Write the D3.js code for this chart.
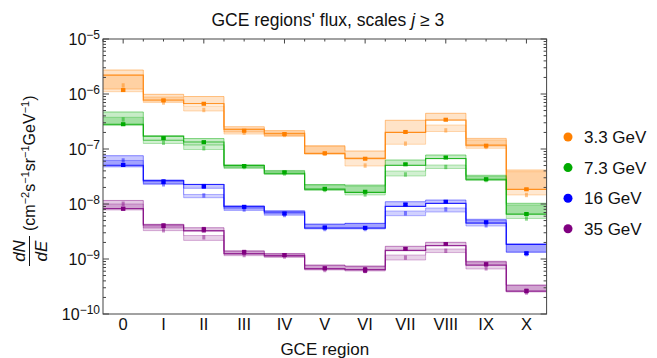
<!DOCTYPE html>
<html>
<head>
<meta charset="utf-8">
<script src="https://cdn.jsdelivr.net/npm/d3@7/dist/d3.min.js"></script>
<style>
  html, body { margin: 0; padding: 0; background: #fff; }
  svg { display: block; font-family: "Liberation Sans", Arial, sans-serif; }
</style>
</head>
<body>
<svg id="chart" width="657" height="358"></svg>
<script>
// GCE regions and energy bins
const regions = ["0", "I", "II", "III", "IV", "V", "VI", "VII", "VIII", "IX", "X"];
const energies = ["3.3 GeV", "7.3 GeV", "16 GeV", "35 GeV"];
const colors = ["#ff8000", "#00aa00", "#0000ff", "#800080"];

// 3.3 GeV
const fit33 = [2.21e-6, 7.78e-7, 6.72e-7, 2.26e-7, 1.91e-7, 8.36e-8, 6.77e-8, 2.01e-7, 3.37e-7, 1.18e-7, 1.85e-8];
const hiA33 = [2.73e-6, 9.87e-7, 9.0e-7, 2.54e-7, 2.16e-7, 1.15e-7, 9.2e-8, 3.33e-7, 4.46e-7, 1.56e-7, 4.15e-8];
const loA33 = [1.23e-6, 7.46e-7, 6.58e-7, 2.04e-7, 1.76e-7, 8.11e-8, 6.58e-8, 2.0e-7, 3.33e-7, 1.13e-7, 1.84e-8];
const hiB33 = [2.21e-6, 8.82e-7, 6.05e-7, 2.36e-7, 2.04e-7, 1.11e-7, 6.86e-8, 2.0e-7, 2.73e-7, 1.46e-7, 3.87e-8];
const loB33 = [1.10e-6, 7.0e-7, 4.91e-7, 1.87e-7, 1.69e-7, 8.11e-8, 4.91e-8, 1.22e-7, 2.08e-7, 1.03e-7, 1.46e-8];
const ptA33 = [1.18e-6, 7.67e-7, 6.65e-7, 2.15e-7, 1.87e-7, 8.36e-8, 6.66e-8, 2.04e-7, 3.41e-7, 1.15e-7, 1.85e-8];
const ptB33 = [1.43e-6, 7.0e-7, 5.12e-7, 1.98e-7, 1.80e-7, 8.2e-8, 5.0e-8, 1.25e-7, 2.18e-7, 1.09e-7, 1.46e-8];
const err33 = [1.04, 1.04, 1.04, 1.04, 1.04, 1.04, 1.04, 1.04, 1.04, 1.04, 1.04];

// 7.3 GeV
const fit73 = [2.82e-7, 1.72e-7, 1.34e-7, 4.97e-8, 3.62e-8, 1.87e-8, 1.63e-8, 5.06e-8, 6.72e-8, 2.82e-8, 6.58e-9];
const hiA73 = [4.71e-7, 1.72e-7, 1.55e-7, 5.16e-8, 4.07e-8, 2.26e-8, 2.21e-8, 6.31e-8, 7.78e-8, 3.33e-8, 1.03e-8];
const loA73 = [2.79e-7, 1.43e-7, 1.21e-7, 4.61e-8, 3.54e-8, 1.84e-8, 1.62e-8, 5.02e-8, 6.66e-8, 2.75e-8, 6.44e-9];
const hiB73 = [3.77e-7, 1.46e-7, 1.16e-7, 5.02e-8, 3.90e-8, 2.21e-8, 2.12e-8, 3.98e-8, 5.12e-8, 3.16e-8, 9.59e-9];
const loB73 = [2.67e-7, 1.26e-7, 9.79e-8, 4.42e-8, 3.44e-8, 1.76e-8, 1.46e-8, 3.23e-8, 4.42e-8, 2.67e-8, 5.45e-9];
const ptA73 = [2.82e-7, 1.58e-7, 1.33e-7, 4.91e-8, 3.77e-8, 1.89e-8, 1.67e-8, 5.27e-8, 7.0e-8, 2.82e-8, 6.58e-9];
const ptB73 = [3.44e-7, 1.30e-7, 1.03e-7, 4.71e-8, 3.59e-8, 1.80e-8, 1.49e-8, 3.44e-8, 4.71e-8, 2.73e-8, 5.45e-9];
const err73 = [1.04, 1.04, 1.04, 1.04, 1.04, 1.04, 1.04, 1.04, 1.04, 1.04, 1.04];

// 16 GeV
const fit16 = [5.06e-8, 2.65e-8, 2.26e-8, 8.93e-9, 7.15e-9, 3.66e-9, 3.66e-9, 9.08e-9, 1.03e-8, 4.51e-9, 1.85e-9];
const hiA16 = [7.55e-8, 2.73e-8, 2.28e-8, 9.27e-9, 7.55e-9, 4.33e-9, 4.46e-9, 1.10e-8, 1.18e-8, 5.27e-9, 1.87e-9];
const loA16 = [4.91e-8, 2.36e-8, 1.93e-8, 8.11e-9, 6.58e-9, 3.62e-9, 3.62e-9, 9.0e-9, 1.02e-8, 4.46e-9, 1.32e-9];
const hiB16 = [6.18e-8, 2.57e-8, 1.49e-8, 8.82e-9, 7.15e-9, 4.24e-9, 4.42e-9, 7.46e-9, 8.46e-9, 5.02e-9, 1.84e-9];
const loB16 = [4.71e-8, 2.26e-8, 1.30e-8, 7.62e-9, 6.23e-9, 3.51e-9, 3.51e-9, 6.13e-9, 7.15e-9, 3.98e-9, 1.34e-9];
const ptA16 = [5.12e-8, 2.54e-8, 2.10e-8, 8.89e-9, 6.72e-9, 3.74e-9, 3.69e-9, 9.79e-9, 1.10e-8, 4.65e-9, 1.27e-9];
const ptB16 = [6.18e-8, 2.28e-8, 1.43e-8, 7.94e-9, 6.31e-9, 3.51e-9, 3.51e-9, 6.77e-9, 8.01e-9, 4.10e-9, 1.23e-9];
const err16 = [1.05, 1.08, 1.08, 1.05, 1.05, 1.05, 1.05, 1.05, 1.05, 1.05, 1.05];

// 35 GeV
const fit35 = [8.28e-9, 4.15e-9, 3.30e-9, 1.26e-9, 1.15e-9, 6.72e-10, 6.44e-10, 1.43e-9, 1.76e-9, 7.78e-10, 2.62e-10];
const hiA35 = [1.16e-8, 4.27e-9, 3.70e-9, 1.41e-9, 1.26e-9, 7.78e-10, 7.46e-10, 1.70e-9, 2.01e-9, 9.08e-10, 3.37e-10];
const loA35 = [8.11e-9, 3.66e-9, 3.16e-9, 1.21e-9, 1.11e-9, 6.44e-10, 6.23e-10, 1.41e-9, 1.72e-9, 7.62e-10, 2.57e-10];
const hiB35 = [1.0e-8, 3.98e-9, 2.67e-9, 1.37e-9, 1.23e-9, 7.62e-10, 7.30e-10, 1.18e-9, 1.52e-9, 8.82e-10, 3.30e-10];
const loB35 = [7.78e-9, 3.28e-9, 2.18e-9, 1.15e-9, 1.07e-9, 6.31e-10, 6.05e-10, 9.59e-10, 1.31e-9, 6.58e-10, 2.51e-10];
const ptA35 = [8.21e-9, 4.03e-9, 3.41e-9, 1.33e-9, 1.18e-9, 6.77e-10, 6.31e-10, 1.53e-9, 1.87e-9, 8.01e-10, 2.62e-10];
const ptB35 = [1.01e-8, 3.33e-9, 2.48e-9, 1.18e-9, 1.11e-9, 6.31e-10, 6.05e-10, 1.06e-9, 1.41e-9, 6.77e-10, 2.46e-10];
const err35 = [1.06, 1.08, 1.10, 1.08, 1.06, 1.06, 1.10, 1.05, 1.05, 1.06, 1.08];

const yTickExps = [-10, -9, -8, -7, -6, -5];

const series = [
  { fit: fit33, hiA: hiA33, loA: loA33, hiB: hiB33, loB: loB33, ptA: ptA33, ptB: ptB33, err: err33 },
  { fit: fit73, hiA: hiA73, loA: loA73, hiB: hiB73, loB: loB73, ptA: ptA73, ptB: ptB73, err: err73 },
  { fit: fit16, hiA: hiA16, loA: loA16, hiB: hiB16, loB: loB16, ptA: ptA16, ptB: ptB16, err: err16 },
  { fit: fit35, hiA: hiA35, loA: loA35, hiB: hiB35, loB: loB35, ptA: ptA35, ptB: ptB35, err: err35 }
];

const svg = d3.select("#chart");
const L = 103, R = 546.6, T = 39, B = 314;

const x = d3.scaleLinear().domain([-0.5, regions.length - 0.5]).range([L, R]);
const y = d3.scaleLog().domain([1e-10, 1e-5]).range([B, T]);

const plot = svg.append("g");
svg.append("clipPath").attr("id", "plotclip")
  .append("rect").attr("x", L).attr("y", T).attr("width", R - L).attr("height", B - T);
plot.attr("clip-path", "url(#plotclip)");

// step helpers: one point per bin edge, last value repeated to close the final bin
const stepPts = arr => arr.map((v, i) => [i - 0.5, v]).concat([[arr.length - 0.5, arr[arr.length - 1]]]);
const stepLine = d3.line().x(d => x(d[0])).y(d => y(d[1])).curve(d3.curveStepAfter);
const stepArea = (hi, lo) => {
  const pts = hi.map((v, i) => [i - 0.5, v, lo[i]]).concat([[hi.length - 0.5, hi[hi.length - 1], lo[lo.length - 1]]]);
  return d3.area().x(d => x(d[0])).y0(d => y(d[2])).y1(d => y(d[1])).curve(d3.curveStepAfter)(pts);
};

series.forEach((s, k) => {
  const c = colors[k];
  const g = plot.append("g");
  // lighter band
  g.append("path").attr("d", stepArea(s.hiB, s.loB)).attr("fill", c).attr("fill-opacity", 0.18).attr("stroke", "none");
  g.append("path").attr("d", stepLine(stepPts(s.hiB))).attr("fill", "none").attr("stroke", c).attr("stroke-opacity", 0.28).attr("stroke-width", 1);
  g.append("path").attr("d", stepLine(stepPts(s.loB))).attr("fill", "none").attr("stroke", c).attr("stroke-opacity", 0.28).attr("stroke-width", 1);
  // main band
  g.append("path").attr("d", stepArea(s.hiA, s.loA)).attr("fill", c).attr("fill-opacity", 0.22).attr("stroke", "none");
  g.append("path").attr("d", stepLine(stepPts(s.hiA))).attr("fill", "none").attr("stroke", c).attr("stroke-opacity", 0.45).attr("stroke-width", 1);
  g.append("path").attr("d", stepLine(stepPts(s.loA))).attr("fill", "none").attr("stroke", c).attr("stroke-opacity", 0.35).attr("stroke-width", 1);
  // central step line
  g.append("path").attr("d", stepLine(stepPts(s.fit))).attr("fill", "none").attr("stroke", c).attr("stroke-opacity", 0.75).attr("stroke-width", 1.2);
});

// data points
series.forEach((s, k) => {
  const c = colors[k];
  const g = svg.append("g");
  // secondary points
  s.ptB.forEach((v, i) => {
    g.append("rect").attr("x", x(i) - 1.5).attr("y", y(v) - 2.2).attr("width", 3).attr("height", 4.4)
      .attr("fill", c).attr("fill-opacity", 0.45);
  });
  // primary points with error bars
  s.ptA.forEach((v, i) => {
    const f = s.err[i];
    const y1 = y(v * f), y2 = y(v / f), cx = x(i);
    g.append("line").attr("x1", cx).attr("x2", cx).attr("y1", y1).attr("y2", y2).attr("stroke", c).attr("stroke-width", 1.2);
    g.append("line").attr("x1", cx - 2).attr("x2", cx + 2).attr("y1", y1).attr("y2", y1).attr("stroke", c).attr("stroke-width", 1);
    g.append("line").attr("x1", cx - 2).attr("x2", cx + 2).attr("y1", y2).attr("y2", y2).attr("stroke", c).attr("stroke-width", 1);
    g.append("rect").attr("x", cx - 2.2).attr("y", y(v) - 2).attr("width", 4.4).attr("height", 4).attr("fill", c);
  });
});

// frame
const frameColor = "#444";
svg.append("rect").attr("x", L).attr("y", T).attr("width", R - L).attr("height", B - T)
  .attr("fill", "none").attr("stroke", frameColor).attr("stroke-width", 1);

// log ticks on left and right, pointing inward
const ticks = svg.append("g").attr("stroke", frameColor).attr("stroke-width", 1);
yTickExps.forEach(e => {
  for (let m = 1; m <= 9; m++) {
    const v = m * Math.pow(10, e);
    if (v > 1e-5 * 1.0001) continue;
    const yy = y(v);
    const len = m === 1 ? 6 : 3;
    ticks.append("line").attr("x1", L).attr("x2", L + len).attr("y1", yy).attr("y2", yy);
    ticks.append("line").attr("x1", R).attr("x2", R - len).attr("y1", yy).attr("y2", yy);
  }
});
// top ticks, every half bin
d3.range(-0.5, regions.length - 0.4, 0.5).forEach(t => {
  const major = Math.abs(t % 2) < 1e-9;
  const xx = x(t);
  ticks.append("line").attr("x1", xx).attr("x2", xx).attr("y1", T).attr("y2", T + (major ? 4.5 : 2.5));
});

// y tick labels
const yl = svg.append("g").attr("fill", "#111");
yTickExps.forEach(e => {
  const t = yl.append("text").attr("x", 100).attr("y", y(Math.pow(10, e)) + 5.5)
    .attr("text-anchor", "end").attr("font-size", 16);
  t.append("tspan").text("10");
  t.append("tspan").attr("dy", -6).attr("font-size", 12).text("\u2212" + Math.abs(e));
});

// x tick labels
svg.append("g").selectAll("text").data(regions).join("text")
  .attr("x", (d, i) => x(i)).attr("y", 330).attr("text-anchor", "middle")
  .attr("font-size", 16.5).attr("fill", "#111").text(d => d);

// axis titles
svg.append("text").attr("x", (L + R) / 2).attr("y", 355).attr("text-anchor", "middle")
  .attr("font-size", 17).attr("fill", "#111").text("GCE region");

const title = svg.append("text").attr("x", (L + R) / 2 + 3).attr("y", 26).attr("text-anchor", "middle")
  .attr("font-size", 17.5).attr("fill", "#111");
title.append("tspan").text("GCE regions' flux, scales ");
title.append("tspan").attr("font-style", "italic").text("j");
title.append("tspan").text(" \u2265 3");

const yt = svg.append("g").attr("transform", "translate(29.5,251) rotate(-90)").attr("fill", "#111");
yt.append("text").attr("x", 0).attr("y", -4.5).attr("text-anchor", "middle").attr("font-size", 17)
  .attr("font-style", "italic").text("dN");
yt.append("line").attr("x1", -15).attr("x2", 15).attr("y1", 0).attr("y2", 0).attr("stroke", "#111").attr("stroke-width", 1);
yt.append("text").attr("x", 0).attr("y", 17.5).attr("text-anchor", "middle").attr("font-size", 17)
  .attr("font-style", "italic").text("dE");
const unit = yt.append("text").attr("x", 20).attr("y", 5.5).attr("font-size", 16);
const unitParts = [["(cm", "\u22122"], ["s", "\u22121"], ["sr", "\u22121"], ["GeV", "\u22121"]];
unitParts.forEach(([base, sup], i) => {
  unit.append("tspan").attr("dy", i === 0 ? 0 : 6).text(base);
  unit.append("tspan").attr("dy", -6).attr("font-size", 11).text(sup);
});
unit.append("tspan").attr("dy", 6).text(")");

// legend
const lg = svg.append("g");
energies.forEach((e, i) => {
  const ly = 137 + i * 30.6;
  lg.append("circle").attr("cx", 568).attr("cy", ly).attr("r", 4.5).attr("fill", colors[i]);
  lg.append("text").attr("x", 584).attr("y", ly + 6).attr("font-size", 17).attr("fill", "#111").text(e);
});
</script>
</body>
</html>
